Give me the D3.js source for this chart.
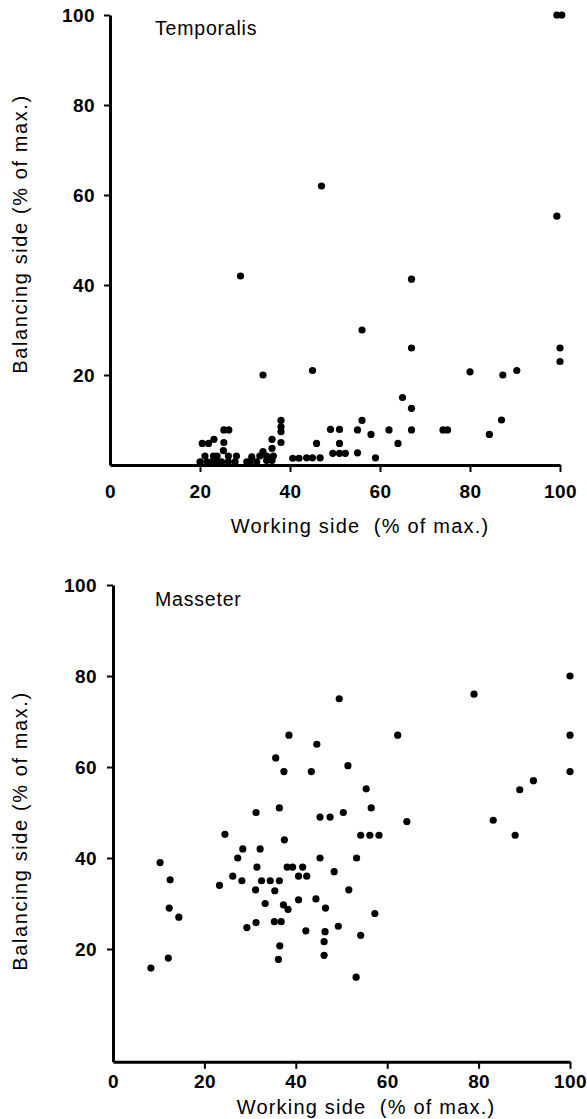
<!DOCTYPE html>
<html><head><meta charset="utf-8">
<script src="https://cdn.jsdelivr.net/npm/d3@7"></script>
<style>
html,body{margin:0;padding:0;background:#fff;}
svg{display:block;font-family:"Liberation Sans",Arial,Helvetica,sans-serif;}
text{white-space:pre;}
</style></head>
<body>
<svg id="chart" width="587" height="1119"></svg>
<script>
// ---- data ----
const temporalisX = [99.3,100.4,47,99.3,29,67,56,67,100,100,80,87.3,90.4,45,34,65,67,87,56,38,38,38,67,62,74,75,84.3,64,58,55,59,55,49,51,51,49.5,51,52.3,46.7,45,43.7,40.6,42,45.9,38,36,36,34,25.3,26.4,20.5,21.9,23.1,25.3,25.2,21.1,23,23.8,26.3,28.1,31.5,33.3,34.8,36.3,20,21.5,22.6,23.7,24.8,26.3,27.8,30.4,31.1,32.6,34.8,36];
const temporalisY = [100,100,62,55.3,42,41.3,30,26,26,23,20.7,20,21,21,20,15,12.6,10,9.9,9.9,8.5,7.4,7.8,7.8,7.8,7.8,6.8,4.8,6.8,7.8,1.6,2.7,7.9,7.9,4.8,2.6,2.6,2.6,1.6,1.6,1.6,1.5,1.5,4.8,5,5.7,3.7,3,7.8,7.8,4.8,4.8,5.7,5,3.2,2,2,2,2,2,1.8,2,2,2,0.7,0.7,0.7,0.7,0.7,0.7,0.7,0.7,0.7,0.7,1,1];
const masseterX = [100,79,49.5,62.3,100,38.5,44.6,35.6,37.4,43.4,51.4,100,92,89,55.4,56.5,31.3,36.4,45.3,47.5,50.4,64.3,83.2,88,24.5,37.5,54.2,56.2,58.2,28.4,32.2,27.3,45.3,53.3,10.3,31.5,38.1,39.3,41.5,48.4,12.5,26.2,28.2,40.6,42.4,32.5,34.4,36.4,23.3,31.2,35.4,51.6,33.3,37.3,38.3,40.6,44.4,46.5,12.3,14.4,57.3,29.3,31.3,35.3,36.8,42.2,46.4,49.3,54.2,46.2,36.5,46.2,36.2,12.1,8.3,53.2];
const masseterY = [80,76,75,67,67,67,65,62,59,59,60.3,59,57,55,55.2,51,50,51,49,49,50,48,48.3,45,45.2,44,45,45,45,42,42,40,40,40,39,38,38,38,38,37,35.2,36,35,36,36,35,35,35,34,33,32.8,33,30,29.7,28.7,30.8,31,29,29,27,27.8,24.7,25.8,26,26,24,23.8,25,23,21.6,20.7,18.6,17.7,18,15.8,13.8];
const xTicks = [0,20,40,60,80,100];
const yTicks = [20,40,60,80,100];
const panelTitles = ["Temporalis","Masseter"];
const xTitle = "Working side  (% of max.)";
const yTitle = "Balancing side (% of max.)";

const svg = d3.select("#chart");

function panel(cfg, xs, ys, title){
  const x = d3.scaleLinear().domain([0,100]).range([cfg.x0, cfg.x1]);
  const y = d3.scaleLinear().domain([0,100]).range([cfg.y0, cfg.y1]);
  const g = svg.append("g");
  const axisY = y(cfg.yMin);

  const gx = g.append("g").attr("transform",`translate(0,${axisY})`)
    .call(d3.axisBottom(x).tickValues(xTicks).tickSize(7).tickSizeOuter(0).tickPadding(cfg.xPad));
  const yScaleExt = d3.scaleLinear().domain([cfg.yMin,100]).range([axisY, cfg.y1]);
  const gy = g.append("g").attr("transform",`translate(${cfg.x0},0)`)
    .call(d3.axisLeft(yScaleExt).tickValues(yTicks).tickSize(6).tickSizeOuter(0).tickPadding(cfg.yPad));
  [gx,gy].forEach(a=>{
    a.select(".domain").attr("stroke","#000").attr("stroke-width",3);
    a.selectAll(".tick line").attr("stroke","#000").attr("stroke-width",2);
    a.selectAll(".tick text").attr("fill","#000").attr("font-size",19).attr("font-weight","bold")
      .attr("letter-spacing",0.4).attr("font-family","'Liberation Sans',Arial,sans-serif");
  });
  gx.selectAll(".tick").filter(d=>d===0).select("line").remove();

  g.append("g").selectAll("circle").data(xs.map((v,i)=>[v,ys[i]])).join("circle")
    .attr("cx",d=>x(d[0])).attr("cy",d=>y(d[1])).attr("r",3.6).attr("fill","#000");

  g.append("text").attr("x",cfg.titleX).attr("y",cfg.titleY).attr("font-size",19.5)
    .attr("letter-spacing",0.8).text(title);
  g.append("text").attr("x",cfg.xTitleX).attr("y",cfg.xTitleY).attr("text-anchor","middle")
    .attr("font-size",20).attr("letter-spacing",1.2).text(xTitle);
  g.append("text").attr("transform",`translate(${cfg.yTitleX},${cfg.yTitleC}) rotate(-90)`)
    .attr("text-anchor","middle").attr("font-size",20).attr("letter-spacing",1.6).text(yTitle);
}

panel({x0:110,x1:560,y0:465,y1:15,yMin:0,xPad:13,yPad:9,titleX:155,titleY:35,
       xTitleX:360,xTitleY:533,yTitleX:27,yTitleC:234},
  temporalisX, temporalisY, panelTitles[0]);
panel({x0:113,x1:570,y0:1040,y1:585,yMin:-4.8,xPad:6,yPad:10,titleX:155,titleY:606,
       xTitleX:366,xTitleY:1114,yTitleX:27,yTitleC:831},
  masseterX, masseterY, panelTitles[1]);
</script>
</body></html>
